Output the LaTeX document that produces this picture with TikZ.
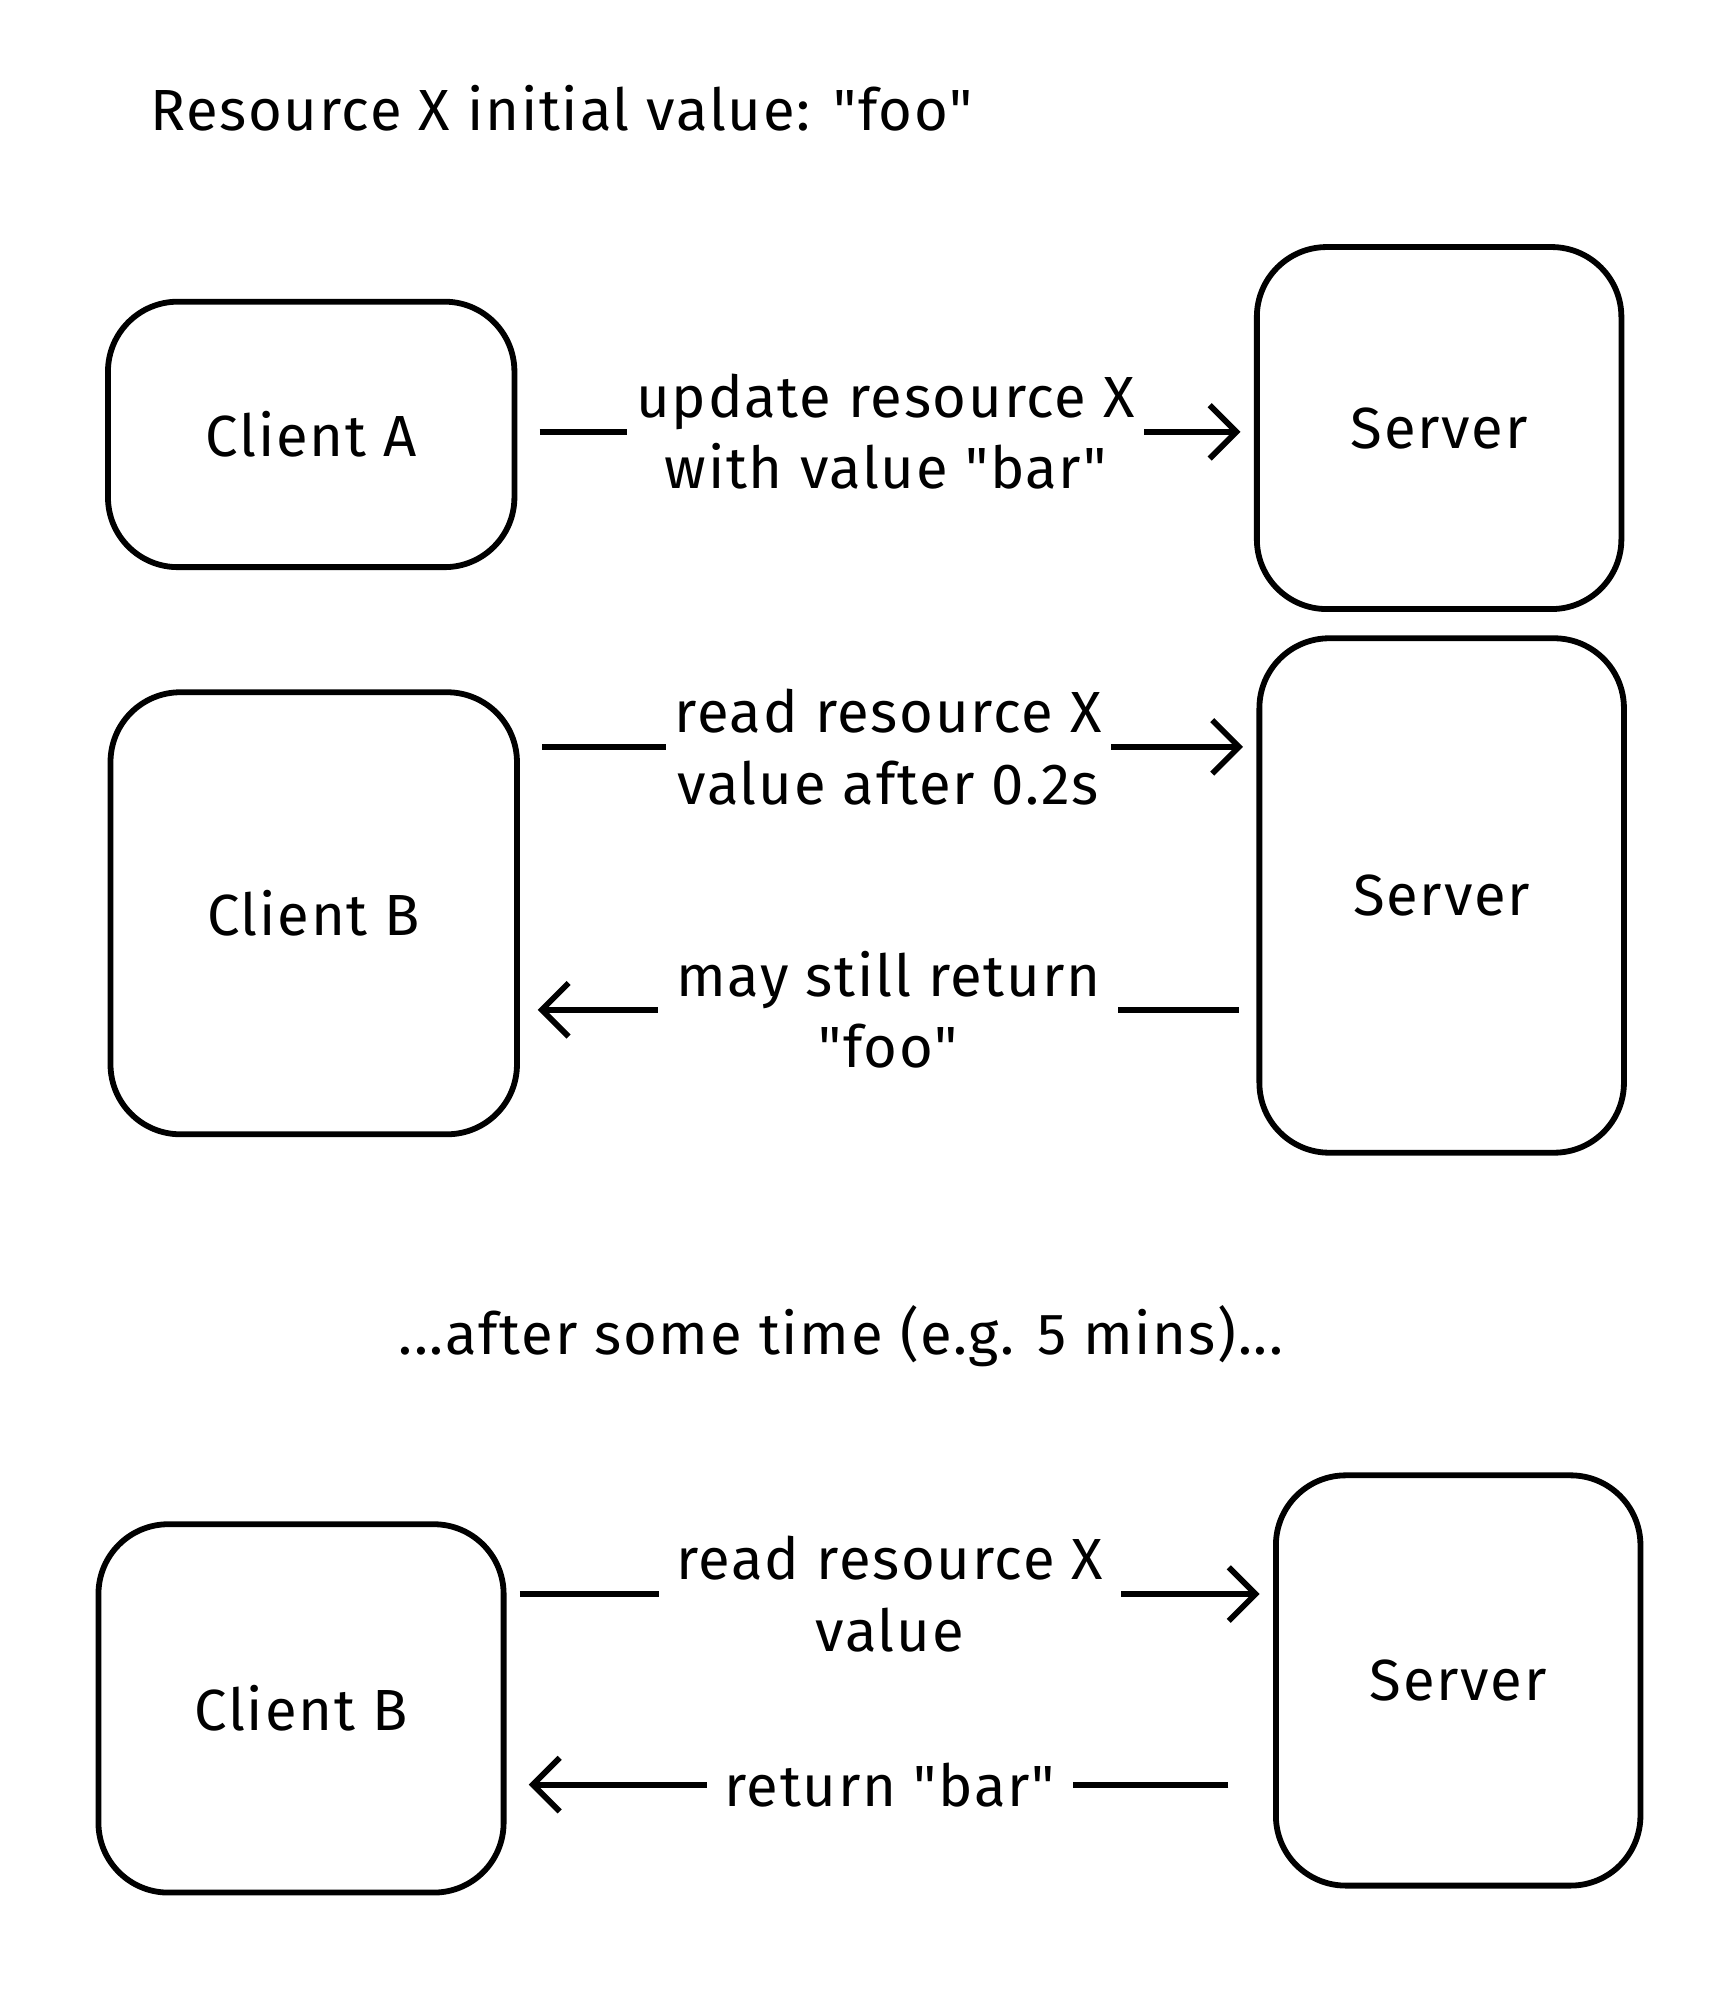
\documentclass[tikz,border=0pt]{standalone}
\usepackage{fontspec}
\setmainfont[Mapping=,LetterSpace=3]{Fira Sans}
\usetikzlibrary{arrows.meta}
\newcommand{\q}{\symbol{34}}
\begin{document}
\begin{tikzpicture}[x=0.02cm,y=-0.02cm,
  box/.style={draw,line width=2.6pt,rounded corners=1.1cm,inner sep=0pt,font=\fontsize{26}{31}\selectfont},
  lbl/.style={font=\fontsize{26}{31}\selectfont,align=center},
  con/.style={line width=2.6pt,-{Straight Barb[length=12pt,width=24pt,line width=2.6pt]}},
  tx/.style={fill=white,inner sep=4pt,font=\fontsize{26}{32}\selectfont,align=center}]
\useasboundingbox (0,0) rectangle (1360,1573);
\node[lbl,anchor=west] (title) at (112,85) {Resource X initial value: \q foo\q};
\node[box,minimum width=320*0.02cm,minimum height=209*0.02cm] (ca) at (245,342) {Client A};
\node[box,minimum width=287*0.02cm,minimum height=285*0.02cm] (s1) at (1133,337) {Server};
\node[box,minimum width=320*0.02cm,minimum height=348*0.02cm] (cb) at (247,719) {Client B};
\node[box,minimum width=287*0.02cm,minimum height=405*0.02cm] (s2) at (1135,705) {Server};
\node[box,minimum width=319*0.02cm,minimum height=290*0.02cm] (cb2) at (237,1345) {Client B};
\node[box,minimum width=287*0.02cm,minimum height=323*0.02cm] (s3) at (1148,1323) {Server};
\node[lbl] (mid) at (662,1052) {...after some time (e.g. 5 mins)...};

\draw[con,shorten <=10pt,shorten >=6pt] (ca.east |- 0,340) -- node[tx]{update resource X\\with value \q bar\q} (s1.west |- 0,340);
\draw[con,shorten <=10pt,shorten >=6pt] (cb.east |- 0,588) -- node[tx]{read resource X\\value after 0.2s} (s2.west |- 0,588);
\draw[con,shorten <=8pt,shorten >=8pt] (s2.west |- 0,795) -- node[tx,inner sep=8pt]{may still return\\\q foo\q} (cb.east |- 0,795);
\draw[con,shorten <=6pt,shorten >=6pt] (cb2.east |- 0,1255) -- node[tx,inner sep=8pt]{read resource X\\value} (s3.west |- 0,1255);
\draw[con,shorten <=20pt,shorten >=10pt] (s3.west |- 0,1405) -- node[tx,inner sep=8pt]{return \q bar\q} (cb2.east |- 0,1405);
\end{tikzpicture}
\end{document}
